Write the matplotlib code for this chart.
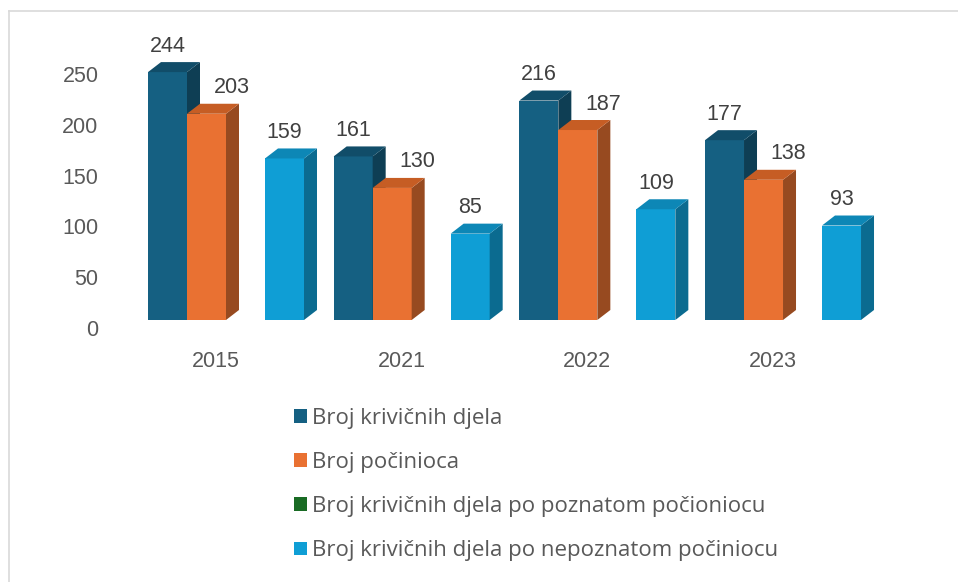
import matplotlib
matplotlib.use("Agg")
import matplotlib.pyplot as plt
from matplotlib.patches import Polygon, Patch
from matplotlib.lines import Line2D
from matplotlib.transforms import ScaledTranslation
import numpy as np

categories = ["2015", "2021", "2022", "2023"]
series_names = [
    "Broj krivičnih djela",
    "Broj počinioca",
    "Broj krivičnih djela po poznatom počioniocu",
    "Broj krivičnih djela po nepoznatom počiniocu",
]
krivicna_djela = [244, 161, 216, 177]
pocinioca = [203, 130, 187, 138]
poznati = [None, None, None, None]
nepoznati = [159, 85, 109, 93]
series_values = [krivicna_djela, pocinioca, poznati, nepoznati]
y_ticks = [0, 50, 100, 150, 200, 250]

front_colors = ["#156082", "#E97132", "#196B24", "#0F9ED5"]
side_colors = ["#0E3E54", "#974A20", "#10461A", "#0B6B90"]
top_colors = ["#114D69", "#C65D24", "#145A1E", "#0D87B6"]

W, H, DPI = 958, 582, 100
fig = plt.figure(figsize=(W / DPI, H / DPI), dpi=DPI)
fig.patch.set_facecolor("white")

font = "Liberation Sans"
legend_font = "Open Sans"
axis_color = "#595959"
label_color = "#404040"

ax_left_px, ax_right_px = 100, 930
ax_top_px, ax_base_px = 20, 320
ax = fig.add_axes([ax_left_px / W, 1 - ax_base_px / H,
                   (ax_right_px - ax_left_px) / W, (ax_base_px - ax_top_px) / H])
px_per_cat = 185.67
px_per_unit = 1.016
x0_px = 226
ax.set_xlim((ax_left_px - x0_px) / px_per_cat, (ax_right_px - x0_px) / px_per_cat)
ax.set_ylim(0, (ax_base_px - ax_top_px) / px_per_unit)
for s in ax.spines.values():
    s.set_visible(False)
ax.set_facecolor("none")

n_series = len(series_values)
slot = 39 / px_per_cat
depth_dx = 13 / px_per_cat
depth_dy = 10 / px_per_unit
x = np.arange(len(categories))

for ci in range(len(categories)):
    for si in range(n_series):
        v = series_values[si][ci]
        if v is None:
            continue
        z = 3 + ci * 10 + si * 2
        xc = x[ci] + (si - (n_series - 1) / 2) * slot
        xl, xr = xc - slot / 2, xc + slot / 2
        ax.bar(xc, v, width=slot, color=front_colors[si], linewidth=0, zorder=z)
        ax.add_patch(Polygon([(xr, 0), (xr + depth_dx, depth_dy), (xr + depth_dx, v + depth_dy), (xr, v)],
                             closed=True, facecolor=side_colors[si], edgecolor="none", zorder=z))
        ax.add_patch(Polygon([(xl, v), (xl + depth_dx, v + depth_dy), (xr + depth_dx, v + depth_dy), (xr, v)],
                             closed=True, facecolor=top_colors[si], edgecolor="none", zorder=z))
        xoff = 25 if si == 1 else 0
        ax.annotate(str(v), (xc, v), xytext=(xoff, 26), textcoords="offset pixels",
                    ha="center", va="center", fontsize=15.5, family=font,
                    color=label_color, zorder=100, annotation_clip=False)

ax.set_xticks(x)
ax.set_xticklabels(categories, family=font, fontsize=15.5, color=axis_color)
ax.set_yticks(y_ticks)
ax.set_yticklabels([str(t) for t in y_ticks], family=font, fontsize=15.5, color=axis_color)
ax.tick_params(axis="x", length=0, pad=22)
ax.tick_params(axis="y", length=0, pad=1)
for lab in ax.get_xticklabels():
    lab.set_transform(lab.get_transform() + ScaledTranslation(-10 / DPI, 0, fig.dpi_scale_trans))
for lab in ax.get_yticklabels():
    lab.set_transform(lab.get_transform() + ScaledTranslation(0, -8 / DPI, fig.dpi_scale_trans))

handles = [Patch(facecolor=c, edgecolor="none") for c in front_colors]
leg = fig.legend(handles, series_names, loc="upper left",
                 bbox_to_anchor=(294 / W, 1 - 408 / H),
                 frameon=False, prop={"family": legend_font, "size": 16},
                 handlelength=0.58, handleheight=0.58, handletextpad=0.25,
                 labelspacing=1.04, borderaxespad=0, borderpad=0)
for t in leg.get_texts():
    t.set_color(axis_color)

fig.add_artist(Line2D([9 / W, 1], [1 - 11 / H, 1 - 11 / H], transform=fig.transFigure,
                      color="#D9D9D9", linewidth=1.2))
fig.add_artist(Line2D([9 / W, 9 / W], [0, 1 - 11 / H], transform=fig.transFigure,
                      color="#D9D9D9", linewidth=1.2))

fig.savefig("out.png", dpi=DPI, facecolor="white")
